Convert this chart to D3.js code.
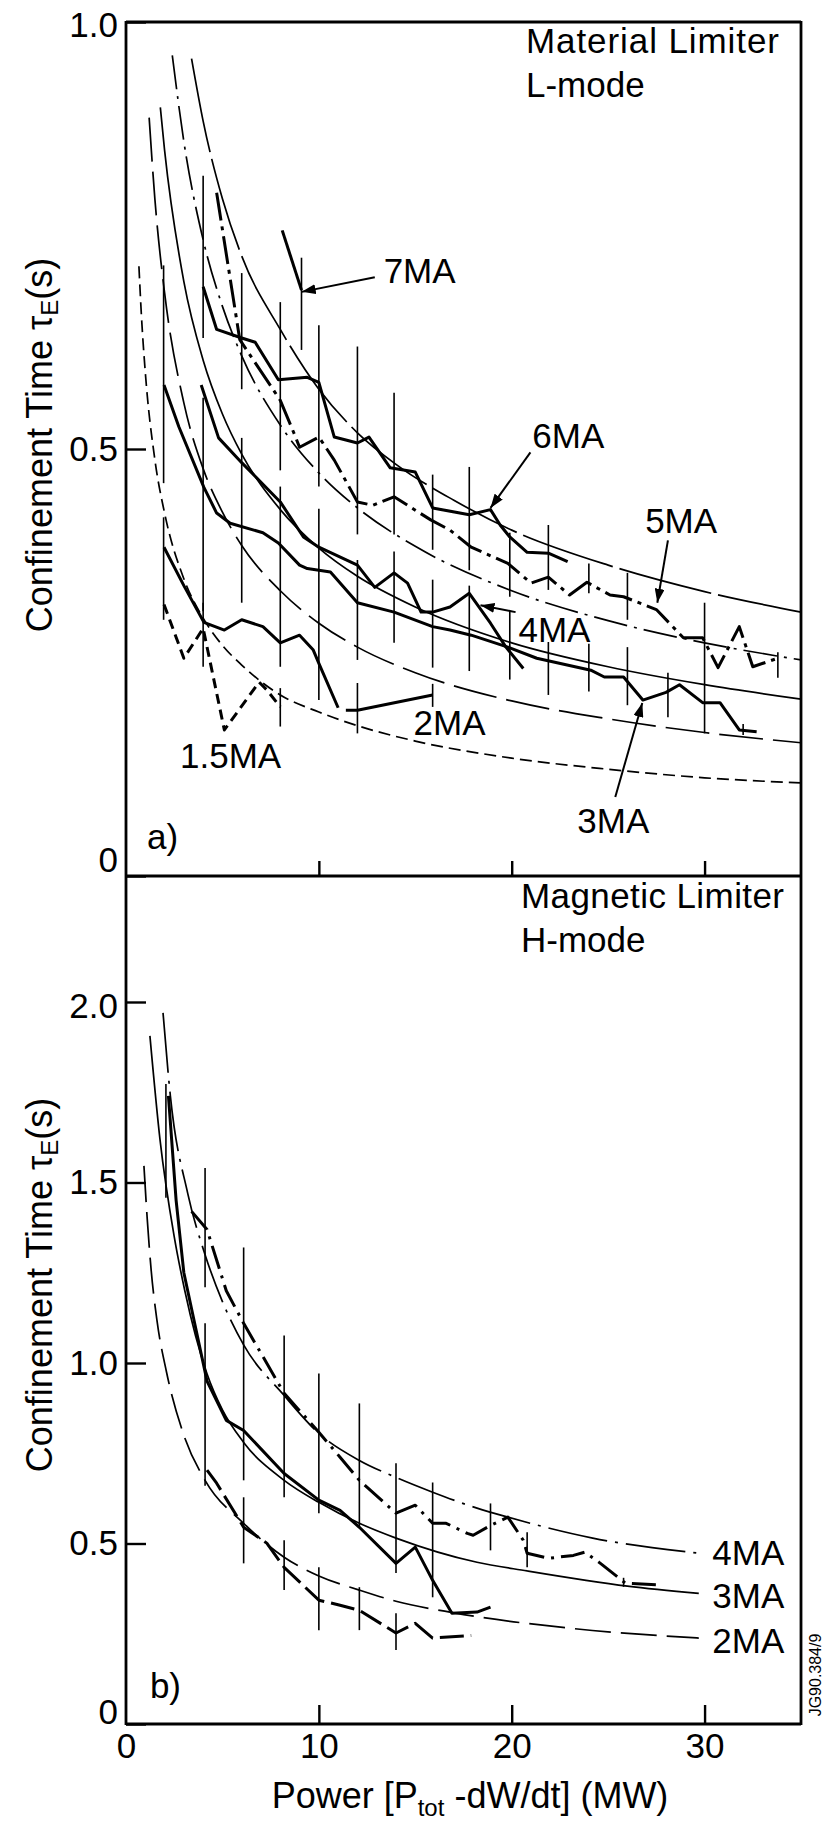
<!DOCTYPE html>
<html><head><meta charset="utf-8">
<script src="https://cdn.jsdelivr.net/npm/d3@7"></script>
<style>
html,body{margin:0;padding:0;background:#fff;}
svg{display:block;font-family:Arial,"Liberation Sans",Helvetica,sans-serif;}
</style></head><body>
<svg id="chart" width="824" height="1821"></svg>
<script>
// ---------------- DATA ----------------
const xTickValues = [0, 10, 20, 30];
const yTicksA = [0, 0.5, 1.0];
const yTicksB = [0, 0.5, 1.0, 1.5, 2.0];

// Panel a) Material limiter, L-mode : fitted curves [P, tau]
const fitA_top = [[3.4,0.957],[4,0.884],[5,0.793],[6,0.726],[8,0.640],[10,0.570],[12,0.519],[14,0.482],[17,0.440],[20,0.405],[25,0.364],[30,0.333],[35,0.309]];
const fitA_dashdot = [[2.4,0.961],[3,0.860],[4,0.745],[5,0.667],[6,0.609],[8,0.528],[10,0.472],[12,0.431],[15,0.386],[20,0.334],[25,0.299],[30,0.273],[35,0.253]];
const fitA_solid = [[1.78,0.900],[2,0.850],[3,0.696],[4,0.604],[5,0.541],[6,0.494],[8,0.429],[10,0.384],[12,0.351],[15,0.315],[20,0.273],[25,0.245],[30,0.224],[35,0.207]];
const fitA_longdash = [[1.2,0.888],[1.5,0.792],[2,0.683],[3,0.554],[4,0.477],[5,0.426],[6,0.387],[8,0.334],[10,0.296],[12,0.268],[15,0.238],[20,0.205],[25,0.184],[30,0.168],[35,0.156]];
const fitA_shortdash = [[0.67,0.714],[0.8,0.656],[1,0.590],[1.5,0.487],[2,0.425],[3,0.348],[4,0.302],[5,0.270],[6,0.247],[8,0.212],[10,0.192],[12,0.176],[15,0.158],[20,0.138],[25,0.125],[30,0.115],[35,0.109]];

// Panel a) measured data [P, tau]
const a7MA = [[8.1,0.756],[9.1,0.686]];
const a6MA = [[4.0,0.69],[4.7,0.64],[6.0,0.63],[6.7,0.625],[7.9,0.581],[9.4,0.584],[10,0.578],[10.8,0.514],[12,0.507],[12.6,0.514],[13.7,0.478],[15,0.473],[15.9,0.431],[17.8,0.423],[18.9,0.429],[19.4,0.411],[19.9,0.397],[20.8,0.379],[21.9,0.378],[22.9,0.368]];
const a5MA = [[4.7,0.80],[5.9,0.628],[8,0.557],[8.7,0.519],[9,0.502],[10,0.514],[10.8,0.487],[12,0.438],[12.8,0.434],[13.9,0.444],[15.8,0.417],[16.8,0.405],[17.9,0.385],[19.8,0.366],[21,0.343],[21.9,0.350],[23,0.329],[23.9,0.344],[25.1,0.329],[25.8,0.327],[27.5,0.312],[28.9,0.279],[29.9,0.279],[30.7,0.244],[31.8,0.292],[32.5,0.245],[33.8,0.255]];
const a4MA = [[3.9,0.575],[4.8,0.513],[6,0.484],[8,0.438],[9.2,0.397],[10,0.385],[12,0.364],[12.9,0.338],[13.9,0.355],[14.6,0.343],[15.3,0.309],[15.9,0.309],[16.8,0.315],[17.8,0.331],[18.9,0.296],[19.7,0.268],[20.6,0.243]];
const a3MA = [[1.97,0.575],[2.74,0.526],[4.04,0.455],[4.7,0.425],[5.4,0.413],[7.1,0.402],[7.9,0.39],[9,0.364],[9.4,0.36],[10.6,0.356],[12,0.32],[13.9,0.309],[15.9,0.292],[16.8,0.288],[17.9,0.282],[19.8,0.268],[21.3,0.255],[24.1,0.241],[24.8,0.233],[25.8,0.233],[26.8,0.206],[28,0.215],[28.7,0.224],[29.9,0.203],[30.8,0.203],[31.8,0.171],[32.7,0.169]];
const a2MA = [[1.97,0.385],[3.0,0.34],[4.04,0.297],[5.1,0.288],[6,0.30],[7.1,0.292],[8,0.273],[9,0.282],[9.7,0.265],[10,0.249],[11,0.197],null,[11.4,0.194],[12,0.194],[15.9,0.212]];
const a15MA = [[1.97,0.318],[3.0,0.255],[4.0,0.29],[5.1,0.171],[6.9,0.227],[7.3,0.218],[8,0.198]];
// error bars [P, low, high]
const errA = [[1.95,0.46,0.715],[1.95,0.30,0.42],[4,0.63,0.82],[4,0.31,0.56],[4,0.245,0.32],[6,0.57,0.706],[6,0.32,0.513],[8,0.475,0.672],[8,0.245,0.456],[8,0.175,0.22],[9.1,0.616,0.724],[10,0.456,0.645],[10,0.206,0.43],[12,0.40,0.62],[12,0.253,0.37],[12,0.167,0.226],[13.9,0.40,0.566],[13.9,0.273,0.38],[15.9,0.382,0.47],[15.9,0.244,0.347],[15.9,0.198,0.225],[17.8,0.358,0.479],[17.8,0.24,0.34],[19.9,0.327,0.402],[19.9,0.23,0.31],[21.9,0.335,0.411],[21.9,0.212,0.274],[24,0.331,0.366],[24,0.216,0.272],[26,0.30,0.355],[26,0.20,0.268],[28.1,0.186,0.238],[30,0.167,0.32],[32,0.165,0.178],[33.8,0.232,0.262]];

// Panel b) Magnetic limiter, H-mode : fitted curves
const fitB_4MA = [[1.92,1.97],[2.3,1.74],[3.2,1.47],[4.1,1.30],[5,1.17],[6.1,1.05],[8.2,0.91],[10,0.805],[12.1,0.73],[14,0.683],[15.9,0.642],[18.2,0.598],[19.8,0.573],[24.2,0.515],[29.7,0.473]];
const fitB_3MA = [[1.24,1.906],[1.76,1.62],[2.5,1.35],[3.05,1.20],[4.2,0.97],[5,0.87],[6.1,0.78],[8.2,0.675],[10,0.614],[12.1,0.556],[14,0.515],[18.2,0.448],[20.8,0.424],[26,0.382],[29.7,0.362]];
const fitB_2MA = [[0.93,1.546],[1.1,1.40],[1.3,1.26],[1.6,1.12],[2.1,0.975],[3,0.80],[4.1,0.675],[6.1,0.556],[8.2,0.462],[10,0.41],[12.1,0.371],[14,0.340],[17,0.308],[22.9,0.266],[29.7,0.238]];
// Panel b) measured data
const b4MA = [[3.4,1.42],[4.2,1.37],[5.2,1.20],[6.1,1.11],[8.2,0.916],[10,0.808],[11.1,0.739],[12.1,0.675],[14,0.584],[15,0.606],[15.9,0.556],[16.6,0.556],[17.7,0.528],[18,0.523],[18.9,0.55],[19.8,0.573],[20.6,0.509],[20.8,0.473],[21.9,0.459],[23.2,0.467],[23.8,0.476],[24.6,0.445],[25.9,0.39],[27.7,0.385]];
const b3MA = [[2.2,1.74],[2.6,1.45],[3.0,1.25],[4.2,0.95],[5.2,0.841],[6.1,0.813],[8.2,0.694],[10,0.62],[11.1,0.592],[12.1,0.545],[14,0.445],[15,0.49],[15.9,0.398],[16.9,0.307],[18.2,0.31],[18.9,0.324]];
const b2MA = [[4.2,0.703],[4.7,0.667],[6.1,0.545],[7.3,0.501],[8.2,0.434],[10,0.343],[11.1,0.329],[12.1,0.315],[14,0.252],[15,0.279],[15.9,0.238],[17.9,0.245]];
const errB = [[2.07,1.458,1.773],[4.1,1.21,1.54],[4.1,0.66,1.11],[6.1,0.675,1.32],[6.1,0.445,0.628],[8.2,0.628,1.076],[8.2,0.371,0.509],[10,0.584,0.971],[10,0.26,0.434],[12.1,0.545,0.888],[12.1,0.26,0.379],[14,0.418,0.722],[14,0.205,0.307],[15.9,0.351,0.669],[18.9,0.481,0.611],[20.8,0.434,0.531],[25.8,0.38,0.405]];

// ---------------- LAYOUT ----------------
const svg = d3.select("#chart");
const left = 126, right = 801, topA = 22, midY = 876, botY = 1724;
const FONT = 'Arial, "Liberation Sans", Helvetica, sans-serif';
const x = d3.scaleLinear().domain([0, 35]).range([left, right]);
const yA = d3.scaleLinear().domain([0, 1]).range([midY, topA]);
const yB = d3.scaleLinear().domain([0, 2.349]).range([botY, midY]);

const THIN = 1.7, THICK = 3.0, ERR = 1.6;

// style tables (not data)
const seriesA = [
  {d: fitA_top, dash: "95,7", w: THIN, smooth: true},
  {d: fitA_dashdot, dash: "34,7,3,7", w: THIN, smooth: true},
  {d: fitA_solid, dash: null, w: THIN, smooth: true},
  {d: fitA_longdash, dash: "44,10", w: THIN, smooth: true},
  {d: fitA_shortdash, dash: "12,6", w: THIN, smooth: true},
  {d: a7MA, dash: null, w: THICK},
  {d: a6MA, dash: null, w: THICK},
  {d: a5MA, dash: "28,6,4,6", w: THICK},
  {d: a4MA, dash: null, w: THICK},
  {d: a3MA, dash: null, w: THICK},
  {d: a2MA, dash: null, w: THICK},
  {d: a15MA, dash: "10,6", w: THICK}
];
const seriesB = [
  {d: fitB_4MA, dash: "60,8,3,8", w: THIN, smooth: true},
  {d: fitB_3MA, dash: null, w: THIN, smooth: true},
  {d: fitB_2MA, dash: "36,10", w: THIN, smooth: true},
  {d: b4MA, dash: "24,7,3,7", w: THICK},
  {d: b3MA, dash: null, w: THICK},
  {d: b2MA, dash: "24,7", w: THICK}
];

// arrow marker
const defs = svg.append("defs");
defs.append("marker").attr("id","ah").attr("markerUnits","userSpaceOnUse")
  .attr("viewBox","0 0 14 10").attr("refX",14).attr("refY",5)
  .attr("markerWidth",14).attr("markerHeight",10).attr("orient","auto")
  .append("path").attr("d","M0,0 L14,5 L0,10 Z").attr("fill","#000");

function drawPanel(series, errs, y) {
  const g = svg.append("g");
  g.selectAll("line.err").data(errs).join("line").attr("class","err")
    .attr("x1", d => x(d[0])).attr("x2", d => x(d[0]))
    .attr("y1", d => y(d[1])).attr("y2", d => y(d[2]))
    .attr("stroke","#000").attr("stroke-width",ERR);
  series.forEach(s => {
    const line = d3.line().defined(d => d).x(d => x(d[0])).y(d => y(d[1]))
      .curve(s.smooth ? d3.curveMonotoneX : d3.curveLinear);
    g.append("path").attr("d", line(s.d)).attr("fill","none")
      .attr("stroke","#000").attr("stroke-width", s.w)
      .attr("stroke-linejoin","round")
      .attr("stroke-dasharray", s.dash);
  });
}
drawPanel(seriesA, errA, yA);
drawPanel(seriesB, errB, yB);

// axes
function styleAxis(g) {
  g.select(".domain").remove();
  g.attr("font-family", FONT).attr("font-size", 35);
  g.selectAll(".tick line").attr("stroke","#000").attr("stroke-width",2.4);
  g.selectAll(".tick text").attr("fill","#000");
}
const fmtY = d => d === 0 ? "0" : d3.format(".1f")(d);
const gyA = svg.append("g").attr("transform",`translate(${left},0)`)
  .call(d3.axisLeft(yA).tickValues(yTicksA).tickFormat(fmtY).tickSize(-20).tickPadding(8));
styleAxis(gyA);
gyA.selectAll(".tick text").filter(d => d === 0).attr("y", -16);
gyA.selectAll(".tick text").filter(d => d === 1).attr("y", 3);
const gyB = svg.append("g").attr("transform",`translate(${left},0)`)
  .call(d3.axisLeft(yB).tickValues(yTicksB).tickFormat(fmtY).tickSize(-20).tickPadding(8));
styleAxis(gyB);
gyB.selectAll(".tick text").filter(d => d === 0).attr("y", -12);
gyB.selectAll(".tick text").filter(d => d === 2).attr("y", 4);

const gxA = svg.append("g").attr("transform",`translate(0,${midY})`)
  .call(d3.axisBottom(x).tickValues(xTickValues.filter(v => v > 0)).tickFormat("").tickSize(-15));
styleAxis(gxA);
const gxB = svg.append("g").attr("transform",`translate(0,${botY})`)
  .call(d3.axisBottom(x).tickValues(xTickValues).tickFormat(d3.format("d")).tickSize(-19).tickPadding(9));
styleAxis(gxB);
gxB.selectAll(".tick line").filter(d => d === 0).remove();

// frame
const frame = svg.append("g").attr("stroke","#000").attr("stroke-width",2.8).attr("fill","none");
frame.append("line").attr("x1",left).attr("x2",left).attr("y1",topA-1).attr("y2",botY+1);
frame.append("line").attr("x1",right).attr("x2",right).attr("y1",topA-1).attr("y2",botY+1);
frame.append("line").attr("x1",left).attr("x2",right).attr("y1",topA).attr("y2",topA);
frame.append("line").attr("x1",left).attr("x2",right).attr("y1",midY).attr("y2",midY);
frame.append("line").attr("x1",left).attr("x2",right).attr("y1",botY).attr("y2",botY);

// text helpers
function label(txt, px, py, size, opts = {}) {
  const t = svg.append("text").attr("x", px).attr("y", py)
    .attr("font-family", FONT).attr("font-size", size).attr("fill","#000").text(txt);
  if (opts.len) t.attr("textLength", opts.len).attr("lengthAdjust","spacing");
  return t;
}
function arrow(x1, y1, x2, y2) {
  svg.append("line").attr("x1",x1).attr("y1",y1).attr("x2",x2).attr("y2",y2)
    .attr("stroke","#000").attr("stroke-width",2).attr("marker-end","url(#ah)");
}

// panel a annotations (data coordinates)
label("Material Limiter", 526, 53, 35, {len: 253});
label("L-mode", 526, 97, 35);
label("7MA", x(13.36), yA(0.694), 35);
label("6MA", x(21.07), yA(0.501), 35);
label("5MA", x(26.92), yA(0.402), 35);
label("4MA", x(20.35), yA(0.274), 35);
label("2MA", x(14.91), yA(0.165), 35);
label("3MA", x(23.4), yA(0.050), 35);
label("1.5MA", x(2.8), yA(0.126), 35);
label("a)", x(1.09), yA(0.032), 35);
arrow(x(12.9), yA(0.701), x(9.11), yA(0.684));
arrow(x(20.97), yA(0.496), x(18.9), yA(0.431));
arrow(x(28.1), yA(0.393), x(27.55), yA(0.32));
arrow(x(20.2), yA(0.309), x(18.38), yA(0.317));
arrow(x(25.37), yA(0.0925), x(26.77), yA(0.2026));

// panel b annotations
label("Magnetic Limiter", 521, 908, 35, {len: 263});
label("H-mode", 521, 952, 35);
label("4MA", x(30.4), yB(0.44), 35);
label("3MA", x(30.4), yB(0.321), 35);
label("2MA", x(30.4), yB(0.196), 35);
label("b)", x(1.24), yB(0.072), 35);

// axis titles
function yTitle(cy) {
  const t = svg.append("text").attr("transform",`translate(52,${cy}) rotate(-90)`)
    .attr("text-anchor","middle").attr("font-family",FONT).attr("font-size",36).attr("fill","#000");
  t.append("tspan").text("Confinement Time τ");
  t.append("tspan").attr("font-size",24).attr("dy",6).text("E");
  t.append("tspan").attr("dy",-6).text("(s)");
}
yTitle(445);
yTitle(1285);
const xt = svg.append("text").attr("x",470).attr("y",1808).attr("text-anchor","middle")
  .attr("font-family",FONT).attr("font-size",36).attr("fill","#000");
xt.append("tspan").text("Power [P");
xt.append("tspan").attr("font-size",24).attr("dy",8).text("tot");
xt.append("tspan").attr("dy",-8).text(" -dW/dt] (MW)");

svg.append("text").attr("transform","translate(821,1675) rotate(-90)").attr("text-anchor","middle")
  .attr("font-family",FONT).attr("font-size",16).attr("fill","#000").text("JG90.384/9");
</script>
</body></html>
